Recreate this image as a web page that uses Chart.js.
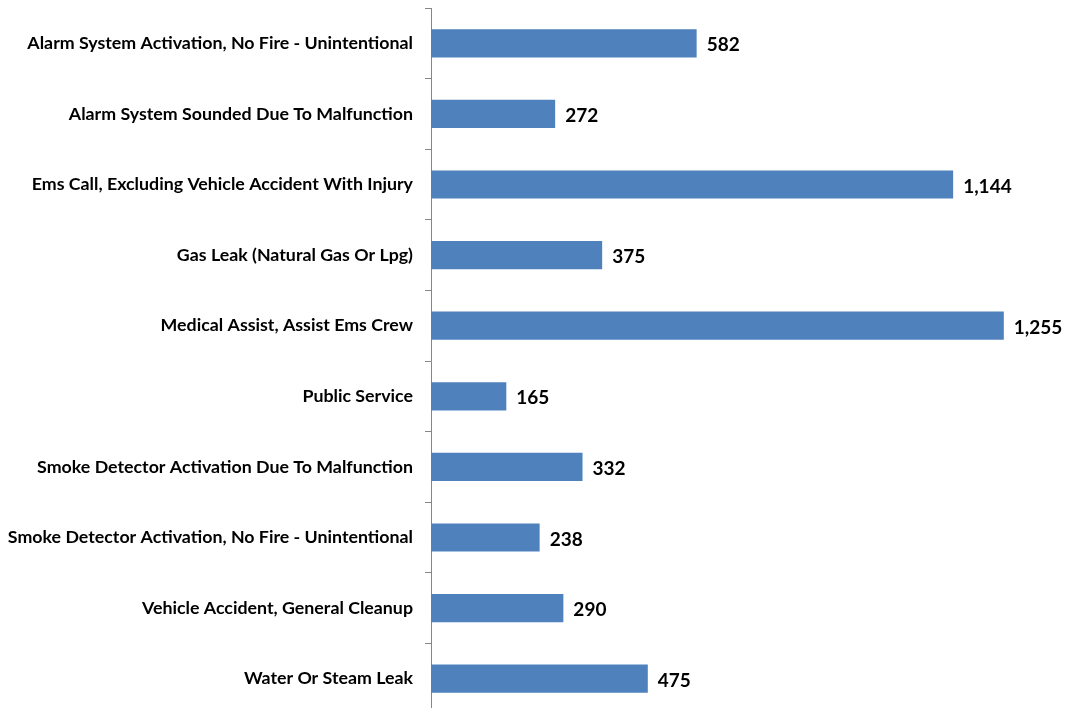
<!DOCTYPE html>
<html lang="en">
<head>
    <meta charset="UTF-8">
    <title>Incident Types</title>
    <script src="https://cdn.jsdelivr.net/npm/chart.js"></script>
    <style>
        html, body {
            margin: 0;
            padding: 0;
            background: #ffffff;
            overflow: hidden;
        }

        .chart-box {
            position: relative;
            width: 1070px;
            height: 714px;
        }
    </style>
</head>
<body>
    <div class="chart-box">
        <canvas id="barChart"></canvas>
    </div>

    <script>
        const categories = [
            "Alarm System Activation, No Fire - Unintentional",
            "Alarm System Sounded Due To Malfunction",
            "Ems Call, Excluding Vehicle Accident With Injury",
            "Gas Leak (Natural Gas Or Lpg)",
            "Medical Assist, Assist Ems Crew",
            "Public Service",
            "Smoke Detector Activation Due To Malfunction",
            "Smoke Detector Activation, No Fire - Unintentional",
            "Vehicle Accident, General Cleanup",
            "Water Or Steam Leak"
        ];
        const counts = [582, 272, 1144, 375, 1255, 165, 332, 238, 290, 475];

        // value labels at the end of each bar
        const valueLabels = {
            id: 'valueLabels',
            afterDatasetsDraw(chart) {
                const ctx = chart.ctx;
                const meta = chart.getDatasetMeta(0);
                ctx.save();
                ctx.font = 'bold 19px Lato, sans-serif';
                ctx.fillStyle = '#000000';
                ctx.textAlign = 'left';
                ctx.textBaseline = 'middle';
                meta.data.forEach((bar, i) => {
                    ctx.fillText(counts[i].toLocaleString('en-US'), bar.x + 10, bar.y + 2);
                });
                ctx.restore();
            }
        };

        new Chart(document.getElementById("barChart"), {
            type: 'bar',
            data: {
                labels: categories,
                datasets: [{
                    data: counts,
                    backgroundColor: '#4F81BD',
                    borderWidth: 0,
                    barPercentage: 0.4,
                    categoryPercentage: 1.0
                }]
            },
            options: {
                indexAxis: 'y',
                responsive: true,
                maintainAspectRatio: false,
                animation: false,
                layout: { padding: { top: 8, right: 0, bottom: 0, left: 0 } },
                plugins: {
                    legend: { display: false },
                    tooltip: { enabled: false }
                },
                scales: {
                    x: {
                        display: false,
                        min: 0,
                        max: 1400
                    },
                    y: {
                        afterFit: (scale) => {
                            scale.width = 431;
                            scale.paddingTop = 0;
                            scale.paddingBottom = 0;
                        },
                        border: { color: '#868686', width: 1 },
                        grid: {
                            drawOnChartArea: false,
                            tickLength: 6,
                            color: '#868686',
                            offset: true
                        },
                        ticks: {
                            color: '#000000',
                            padding: 12,
                            font: { family: 'Lato, sans-serif', size: 17.8, weight: 'bold' }
                        }
                    }
                }
            },
            plugins: [valueLabels]
        });
    </script>
</body>
</html>
